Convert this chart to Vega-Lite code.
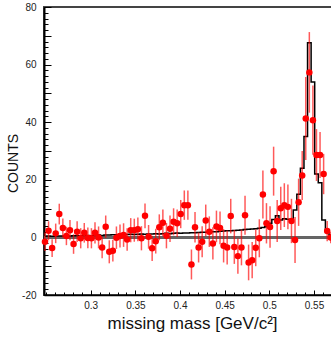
{
  "$schema": "https://vega.github.io/schema/vega-lite/v6.json",
  "width": 289,
  "height": 288,
  "autosize": {"type": "none"},
  "padding": {"left": 44, "top": 7, "right": 0, "bottom": 42},
  "background": "white",
  "config": {"font": "Liberation Sans", "view": {"stroke": "#444", "strokeWidth": 2}},
  "data": {"values": [
    {"x":0.2488,"v":-1.5,"e":3.2,"h":0.4},{"x":0.2528,"v":2.3,"e":3.3,"h":0.5},{"x":0.2568,"v":-3.7,"e":3.1,"h":0.4},{"x":0.2608,"v":1.4,"e":3.4,"h":0.5},{"x":0.2648,"v":8.1,"e":3.6,"h":0.5},
    {"x":0.2688,"v":3.3,"e":3.3,"h":0.5},{"x":0.2728,"v":0.5,"e":3.2,"h":0.6},{"x":0.2768,"v":2.5,"e":3.5,"h":0.5},{"x":0.2808,"v":-2.3,"e":3.4,"h":0.6},{"x":0.2848,"v":2.0,"e":3.6,"h":0.6},
    {"x":0.2888,"v":-0.3,"e":3.5,"h":0.6},{"x":0.2928,"v":1.6,"e":3.4,"h":0.7},{"x":0.2968,"v":-0.2,"e":3.6,"h":0.7},{"x":0.3008,"v":-0.3,"e":3.5,"h":0.6},{"x":0.3048,"v":1.6,"e":3.7,"h":0.7},
    {"x":0.3088,"v":0,"e":3.8,"h":0.8},{"x":0.3128,"v":-3.5,"e":3.7,"h":0.7},{"x":0.3168,"v":3.7,"e":3.9,"h":0.8},{"x":0.3208,"v":-5,"e":4.0,"h":0.8},{"x":0.3248,"v":-4.6,"e":3.8,"h":0.9},
    {"x":0.3288,"v":-0.1,"e":3.9,"h":0.9},{"x":0.3328,"v":0.5,"e":4.0,"h":1.0},{"x":0.3368,"v":0.8,"e":4.1,"h":0.9},{"x":0.3408,"v":-0.7,"e":3.9,"h":1.0},{"x":0.3448,"v":2.5,"e":4.2,"h":1.1},
    {"x":0.3488,"v":2.5,"e":4.0,"h":1.0},{"x":0.3528,"v":2.8,"e":4.1,"h":1.1},{"x":0.3568,"v":-0.3,"e":4.2,"h":1.2},{"x":0.3608,"v":7.5,"e":4.3,"h":1.1},{"x":0.3648,"v":0.2,"e":4.1,"h":1.2},
    {"x":0.3688,"v":-3.8,"e":4.4,"h":1.2},{"x":0.3728,"v":-1.3,"e":4.3,"h":1.3},{"x":0.3768,"v":3.5,"e":4.5,"h":1.2},{"x":0.3808,"v":5.1,"e":4.6,"h":1.3},{"x":0.3848,"v":0.6,"e":4.4,"h":1.4},
    {"x":0.3888,"v":3.0,"e":4.6,"h":1.3},{"x":0.3928,"v":5.4,"e":4.7,"h":1.4},{"x":0.3968,"v":4.9,"e":4.8,"h":1.5},{"x":0.4008,"v":8.1,"e":4.9,"h":1.4},{"x":0.4048,"v":11.2,"e":5.1,"h":1.5},
    {"x":0.4088,"v":11.2,"e":5.1,"h":1.5},{"x":0.4128,"v":-9.4,"e":5.2,"h":1.6},{"x":0.4168,"v":3.5,"e":5.3,"h":1.6},{"x":0.4208,"v":-3.5,"e":5.2,"h":1.7},{"x":0.4248,"v":-1.5,"e":5.4,"h":1.8},
    {"x":0.4288,"v":5.9,"e":5.5,"h":1.8},{"x":0.4328,"v":2.0,"e":5.3,"h":1.9},{"x":0.4368,"v":-2.1,"e":5.6,"h":2.0},{"x":0.4408,"v":3.8,"e":5.5,"h":2.0},{"x":0.4448,"v":3.3,"e":5.7,"h":2.1},
    {"x":0.4488,"v":-2.9,"e":5.8,"h":2.2},{"x":0.4528,"v":-3.5,"e":5.9,"h":2.3},{"x":0.4568,"v":7.4,"e":6.0,"h":2.3},{"x":0.4608,"v":-3.3,"e":5.9,"h":2.4},{"x":0.4648,"v":-6.5,"e":6.1,"h":2.5},
    {"x":0.4688,"v":-3.5,"e":6.2,"h":2.6},{"x":0.4728,"v":7.7,"e":6.8,"h":2.7},{"x":0.4768,"v":-8.7,"e":6.2,"h":2.8},{"x":0.4808,"v":-7.9,"e":6.3,"h":2.9},{"x":0.4848,"v":-3.6,"e":6.4,"h":3.0},
    {"x":0.4888,"v":-0.3,"e":6.6,"h":3.2},{"x":0.4928,"v":14.9,"e":8.3,"h":3.4},{"x":0.4968,"v":4.9,"e":7.0,"h":3.7},{"x":0.5008,"v":3.6,"e":7.2,"h":4.9},{"x":0.5048,"v":23,"e":8.5,"h":6.2},
    {"x":0.5088,"v":5.7,"e":7.3,"h":7.5},{"x":0.5128,"v":10.1,"e":7.5,"h":6.0},{"x":0.5168,"v":11.2,"e":7.6,"h":6.5},{"x":0.5208,"v":10.6,"e":7.8,"h":6.3},{"x":0.5248,"v":5.7,"e":7.7,"h":6.0},
    {"x":0.5288,"v":-0.9,"e":8.0,"h":9.5},{"x":0.5328,"v":12.2,"e":8.2,"h":15},{"x":0.5368,"v":21.5,"e":8.5,"h":24},{"x":0.5408,"v":41.3,"e":14.4,"h":35},{"x":0.5448,"v":57.3,"e":14,"h":67.6},
    {"x":0.5488,"v":40.7,"e":12,"h":54},{"x":0.5528,"v":28.6,"e":9,"h":22},{"x":0.5568,"v":28.6,"e":8,"h":19},{"x":0.5608,"v":22,"e":7,"h":6},{"x":0.5648,"v":2.2,"e":3.5,"h":2.5},
    {"x":0.5688,"v":0,"e":2,"h":0.8}
  ]},
  "layer": [
    {
      "mark": {"type": "rule", "color": "#666", "strokeWidth": 1.5},
      "encoding": {
        "y": {"datum": 0, "type": "quantitative", "scale": {"domain": [-20, 80], "nice": false}, "axis": null}
      }
    },
    {
      "mark": {"type": "line", "interpolate": "step", "color": "black", "strokeWidth": 1.5},
      "encoding": {
        "x": {"field": "x", "type": "quantitative", "scale": {"domain": [0.2477, 0.5713], "nice": false, "zero": false},
          "axis": {"orient": "bottom", "values": [0.3, 0.35, 0.4, 0.45, 0.5, 0.55], "format": "~g", "tickSize": -5, "tickColor": "black", "tickWidth": 1,
            "domainColor": "black", "domainWidth": 1.5, "labelFontSize": 10, "labelColor": "#222", "labelPadding": 10, "labelFlush": false, "labelOverlap": false,
            "grid": false, "title": "missing mass [GeV/c²]", "titleFontSize": 17, "titleFontWeight": "normal", "titleColor": "#111",
            "titleX": 148, "titleY": 33, "titleBaseline": "alphabetic", "titleAlign": "center"}},
        "y": {"field": "h", "type": "quantitative", "scale": {"domain": [-20, 80], "nice": false},
          "axis": {"orient": "left", "values": [-20, -10, 0, 10, 20, 30, 40, 50, 60, 70, 80], "labelExpr": "datum.value % 20 == 0 ? '' + datum.value : ''",
            "tickSize": -7, "tickColor": "black", "tickWidth": 1, "domainColor": "black", "domainWidth": 2, "labelFontSize": 10, "labelColor": "#222",
            "labelPadding": 15, "labelFlush": false, "labelOverlap": false, "grid": false, "title": "COUNTS", "titleFontSize": 14, "titleFontWeight": "normal",
            "titleColor": "#111", "titleX": -27, "titleY": 156, "titleAngle": -90, "titleBaseline": "alphabetic", "titleAlign": "center"}}
      }
    },
    {
      "mark": {"type": "errorbar", "color": "#ff0000", "opacity": 0.65, "thickness": 1.5},
      "encoding": {
        "x": {"field": "x", "type": "quantitative", "axis": null},
        "y": {"field": "v", "type": "quantitative", "axis": null},
        "yError": {"field": "e"}
      }
    },
    {
      "mark": {"type": "point", "filled": true, "shape": "circle", "color": "#ff0000", "opacity": 1, "size": 42},
      "encoding": {
        "x": {"field": "x", "type": "quantitative",
          "axis": {"orient": "bottom", "values": [0.25,0.26,0.27,0.28,0.29,0.3,0.31,0.32,0.33,0.34,0.35,0.36,0.37,0.38,0.39,0.4,0.41,0.42,0.43,0.44,0.45,0.46,0.47,0.48,0.49,0.5,0.51,0.52,0.53,0.54,0.55,0.56],
            "tickSize": -3, "tickColor": "black", "tickWidth": 1, "labels": false, "domain": false, "grid": false, "title": null}},
        "y": {"field": "v", "type": "quantitative",
          "axis": {"orient": "left", "values": [-20,-18,-16,-14,-12,-10,-8,-6,-4,-2,0,2,4,6,8,10,12,14,16,18,20,22,24,26,28,30,32,34,36,38,40,42,44,46,48,50,52,54,56,58,60,62,64,66,68,70,72,74,76,78,80],
            "tickSize": -4, "tickColor": "black", "tickWidth": 1, "labels": false, "domain": false, "grid": false, "title": null}}
      }
    }
  ],
  "resolve": {"axis": {"x": "independent", "y": "independent"}}
}
